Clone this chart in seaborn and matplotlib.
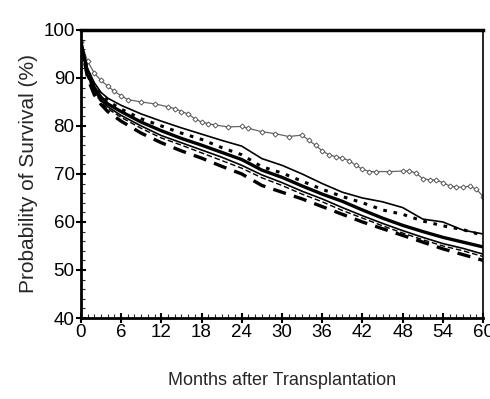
import matplotlib
matplotlib.use("Agg")
import matplotlib.pyplot as plt
import seaborn as sns
import numpy as np
import pandas as pd
from matplotlib.ticker import MultipleLocator

# Months for cluster curves
months = [0, 1, 2, 3, 4, 6, 9, 12, 15, 18, 21, 24, 27, 30, 33, 36, 39, 42, 45, 48, 51, 54, 57, 60]
upper_solid = [97.5, 92, 89, 87, 85.8, 84.3, 82.5, 81, 79.6, 78.3, 77, 75.8, 73.2, 71.8, 70, 68, 66.2, 65, 64.2, 63, 60.6, 60, 58.3, 57.5]
dotted = [97.5, 91.5, 88.5, 86.5, 85.2, 83.5, 81.5, 80, 78.5, 77.2, 75.5, 74, 71.5, 70.2, 68.5, 66.8, 65.3, 64, 62.5, 61.6, 60.2, 59.2, 58.4, 57.2]
thick_solid = [97.5, 91, 88, 86, 84.6, 83, 80.8, 79, 77.4, 76, 74.5, 73, 70.8, 69.3, 67.5, 65.8, 64.3, 62.5, 60.8, 59.3, 58, 56.8, 55.8, 54.8]
thin_solid = [97.5, 90.5, 87.3, 85.3, 84, 82.2, 80, 78, 76.5, 75, 73.5, 71.8, 69.8, 68.2, 66.4, 64.8, 63, 61.3, 59.7, 58.2, 56.8, 55.5, 54.5, 53.3]
thin_dashed = [97.5, 90.2, 87, 85, 83.6, 81.8, 79.5, 77.5, 76, 74.4, 72.8, 71.2, 69.2, 67.6, 65.8, 64.2, 62.4, 60.8, 59.2, 57.7, 56.3, 55, 54, 52.8]
thick_dashed = [97.5, 90, 86.5, 84.5, 83, 81, 78.5, 76.5, 74.8, 73.3, 71.6, 70, 67.6, 66.2, 64.8, 63.2, 61.6, 60, 58.6, 57.2, 55.8, 54.4, 53.2, 52.0]

# Diamond-marker curve
months_d = [0, 1, 2, 3, 4, 5, 6, 7, 9, 11, 13, 14, 15, 16, 17, 18, 19, 20, 22, 24, 25, 27, 29, 31, 33,
            34, 35, 36, 37, 38, 39, 40, 41, 42, 43, 44, 46, 48, 49, 50, 51, 52, 53, 54, 55, 56, 57, 58, 59, 60]
diamond = [97.5, 93.5, 91, 89.5, 88.3, 87.2, 86.3, 85.5, 85, 84.6, 84, 83.6, 83, 82.5, 81.5, 80.8, 80.5, 80.2, 79.8, 79.9,
           79.5, 78.8, 78.4, 77.8, 78.1, 77, 76, 74.8, 74, 73.6, 73.3, 72.8, 71.8, 71, 70.5, 70.5, 70.5, 70.6, 70.6, 70.2,
           69, 68.8, 68.7, 68.2, 67.5, 67.3, 67.2, 67.5, 66.8, 65.3]

x_ticks = [0, 6, 12, 18, 24, 30, 36, 42, 48, 54, 60]
y_ticks = [40, 50, 60, 70, 80, 90, 100]

sns.set_style("ticks")
plt.rcParams['font.family'] = ['Liberation Sans Narrow', 'Liberation Sans', 'DejaVu Sans']

fig = plt.figure(figsize=(4.9, 3.99), dpi=100)
ax = fig.add_axes([0.165, 0.203, 0.821, 0.722])

sns.lineplot(x=months_d, y=diamond, ax=ax, color="#666666", lw=0.9, marker="D", markersize=2.6,
             markerfacecolor="white", markeredgecolor="#444444", markeredgewidth=0.6)
sns.lineplot(x=months, y=upper_solid, ax=ax, color="black", lw=1.2)
sns.lineplot(x=months, y=dotted, ax=ax, color="black", lw=2.2, linestyle=(0, (1.2, 2.2)))
sns.lineplot(x=months, y=thick_solid, ax=ax, color="black", lw=2.4)
sns.lineplot(x=months, y=thin_solid, ax=ax, color="black", lw=1.2)
sns.lineplot(x=months, y=thin_dashed, ax=ax, color="black", lw=1.0, linestyle=(0, (4, 2)))
sns.lineplot(x=months, y=thick_dashed, ax=ax, color="black", lw=2.4, linestyle=(0, (4, 2.5)))

ax.set_xlim(0, 60)
ax.set_ylim(40, 100)
ax.set_xticks(x_ticks)
ax.set_xticklabels([str(t) for t in x_ticks])
ax.set_yticks(y_ticks)
ax.set_yticklabels([str(t) for t in y_ticks])
ax.xaxis.set_minor_locator(MultipleLocator(1))
ax.yaxis.set_minor_locator(MultipleLocator(2))
ax.tick_params(axis='both', which='major', direction='inout', length=7, width=1.5, labelsize=13.5, pad=1, colors='black')
ax.tick_params(axis='both', which='minor', direction='in', length=3, width=0.8)

for side in ['left', 'bottom']:
    ax.spines[side].set_linewidth(2.0)
ax.spines['top'].set_linewidth(2.5)
ax.spines['right'].set_linewidth(1.2)
for s in ax.spines.values():
    s.set_color('black')
    s.set_visible(True)

ax.set_xlabel("Months after Transplantation", fontsize=13, labelpad=22)
ax.set_ylabel("Probability of Survival (%)", fontsize=15, labelpad=4)

fig.savefig("out.png", dpi=100)
